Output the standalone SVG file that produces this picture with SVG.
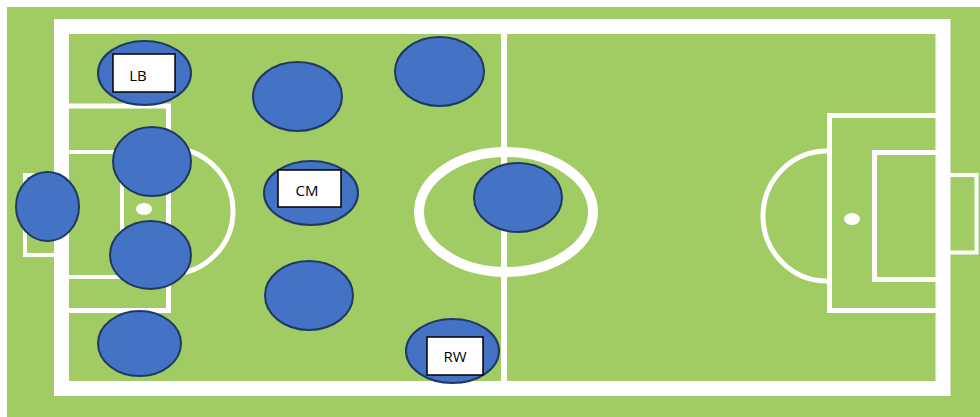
<svg xmlns="http://www.w3.org/2000/svg" width="980" height="417" viewBox="0 0 980 417">
<style>
.ln{fill:none;stroke:#ffffff}
.pl{fill:#4472C4;stroke:#1F3864;stroke-width:2}
.lb{fill:#ffffff;stroke:#000000;stroke-width:1.5}
.tx{font-family:"Open Sans","Liberation Sans",Arial,sans-serif;font-size:15px;fill:#000000;text-anchor:middle}
</style>
<rect x="0" y="0" width="980" height="417" fill="#ffffff"/>
<g id="pitch">
<rect x="7" y="7" width="973" height="410" fill="#A1CC63"/>
<rect class="ln" x="61.5" y="26.5" width="881.5" height="362" stroke-width="15"/>
<line class="ln" x1="504" y1="34" x2="504" y2="381" stroke-width="6"/>
<ellipse class="ln" cx="506" cy="212" rx="87" ry="60" stroke-width="10"/>
<rect class="ln" x="66" y="106" width="102.5" height="204.5" stroke-width="5"/>
<rect class="ln" x="66" y="152" width="56" height="125" stroke-width="4"/>
<rect class="ln" x="25" y="175" width="32" height="80" stroke-width="4"/>
<path class="ln" d="M170 148 A62 62 0 0 1 170 274" stroke-width="5"/>
<ellipse cx="144" cy="209" rx="8" ry="6" fill="#ffffff"/>
<rect class="ln" x="829.5" y="115.5" width="110" height="195" stroke-width="5"/>
<rect class="ln" x="874.5" y="152.5" width="65" height="127" stroke-width="5"/>
<rect class="ln" x="947" y="175" width="29.5" height="77.5" stroke-width="4"/>
<path class="ln" d="M827 151 A64 65 0 0 0 827 281" stroke-width="5"/>
<ellipse cx="852" cy="219" rx="8" ry="6" fill="#ffffff"/>
</g>
<g id="connectors"></g>
<g id="gk"><ellipse class="pl" cx="47.5" cy="206.5" rx="31.5" ry="34.5"/></g>
<g id="lb"><ellipse class="pl" cx="144.5" cy="73" rx="46.5" ry="32"/><rect class="lb" x="113" y="54" width="62" height="38"/><text class="tx" x="138" y="81">LB</text></g>
<g id="cb1"><ellipse class="pl" cx="152" cy="161.5" rx="39" ry="34.5"/></g>
<g id="cb2"><ellipse class="pl" cx="150.5" cy="255" rx="40.5" ry="34"/></g>
<g id="rb"><ellipse class="pl" cx="139.5" cy="343.5" rx="41.5" ry="32.5"/></g>
<g id="m1"><ellipse class="pl" cx="297.5" cy="96.5" rx="44.5" ry="34.5"/></g>
<g id="cm"><ellipse class="pl" cx="311" cy="193" rx="47" ry="32"/><rect class="lb" x="278" y="170" width="63" height="37"/><text class="tx" x="307" y="196">CM</text></g>
<g id="m2"><ellipse class="pl" cx="309" cy="295.5" rx="44" ry="34.5"/></g>
<g id="lw"><ellipse class="pl" cx="439.5" cy="71.5" rx="44.5" ry="34.5"/></g>
<g id="st"><ellipse class="pl" cx="518" cy="197.5" rx="44" ry="34.5"/></g>
<g id="rw"><ellipse class="pl" cx="452.5" cy="351" rx="46.5" ry="32"/><rect class="lb" x="427" y="337" width="56" height="38"/><text class="tx" x="455" y="362">RW</text></g>
</svg>
